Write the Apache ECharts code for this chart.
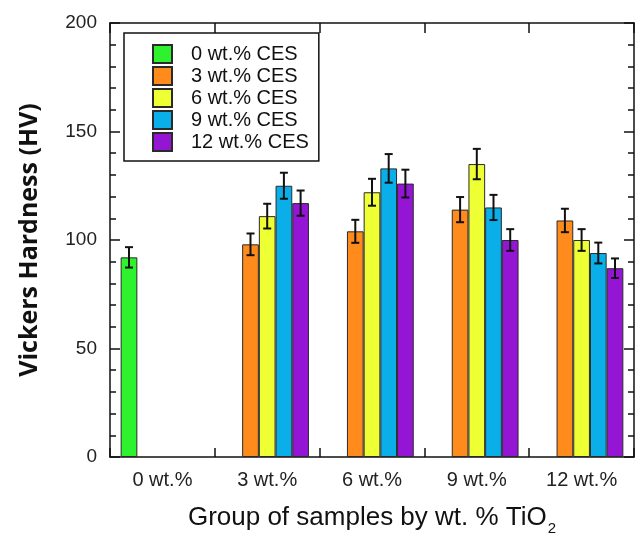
<!DOCTYPE html>
<html>
<head>
<meta charset="utf-8">
<title>Vickers Hardness</title>
<script src="https://cdn.jsdelivr.net/npm/echarts@6/dist/echarts.min.js"></script>
<style>
  html, body { margin: 0; padding: 0; background: #fff; }
  #main { width: 638px; height: 537px; }
</style>
</head>
<body>
<div id="main"></div>
<script>
// categories / tick labels
var categories = ['0 wt.%', '3 wt.%', '6 wt.%', '9 wt.%', '12 wt.%'];
var seriesNames = ['0 wt.% CES', '3 wt.% CES', '6 wt.% CES', '9 wt.% CES', '12 wt.% CES'];
var yTicks = [0, 50, 100, 150, 200];

// hardness values (HV), one array per CES content
var ces0  = [92, null, null, null, null];
var ces3  = [null, 98, 104, 114, 109];
var ces6  = [null, 111, 122, 135, 100];
var ces9  = [null, 125, 133, 115, 94];
var ces12 = [null, 117, 126, 100, 87];

// error bar half-widths
var err0  = [4.7, null, null, null, null];
var err3  = [null, 5, 5.3, 5.8, 5.4];
var err6  = [null, 5.7, 6.2, 7, 5];
var err9  = [null, 6, 6.6, 5.8, 4.8];
var err12 = [null, 5.8, 6.4, 5, 4.5];

var colors = ['#2ff22f', '#ff8b1c', '#eeff33', '#0aaee8', '#9416d4'];
var values = [ces0, ces3, ces6, ces9, ces12];
var errors = [err0, err3, err6, err9, err12];

var BAR_W = 16.7;
var FONT = 'Liberation Sans, Arial, sans-serif';

var chart = echarts.init(document.getElementById('main'), null, { renderer: 'canvas' });

// bar series
var series = [];
for (var i = 0; i < values.length; i++) {
  series.push({
    name: seriesNames[i],
    type: 'bar',
    data: values[i],
    barWidth: BAR_W,
    barGap: '0%',
    itemStyle: { color: colors[i], borderColor: '#2a2a2a', borderWidth: 1 },
    z: 2
  });
}

// error bars, drawn with a custom series per group
function errRender(offset) {
  return function (params, api) {
    var idx = api.value(0);
    var lo = api.coord([idx, api.value(1)]);
    var hi = api.coord([idx, api.value(2)]);
    var x = lo[0] + offset;
    var cap = 4;
    var st = { stroke: '#111', lineWidth: 2 };
    return {
      type: 'group',
      children: [
        { type: 'line', shape: { x1: x, y1: lo[1], x2: x, y2: hi[1] }, style: st },
        { type: 'line', shape: { x1: x - cap, y1: lo[1], x2: x + cap, y2: lo[1] }, style: st },
        { type: 'line', shape: { x1: x - cap, y1: hi[1], x2: x + cap, y2: hi[1] }, style: st }
      ]
    };
  };
}
for (var j = 0; j < values.length; j++) {
  var d = [];
  for (var k = 0; k < categories.length; k++) {
    if (values[j][k] != null) {
      d.push([k, values[j][k] - errors[j][k], values[j][k] + errors[j][k]]);
    }
  }
  series.push({
    type: 'custom',
    renderItem: errRender((j - 2) * BAR_W),
    data: d,
    encode: { x: 0, y: [1, 2] },
    z: 5,
    silent: true
  });
}

var option = {
  animation: false,
  backgroundColor: '#fff',
  textStyle: { fontFamily: FONT },
  grid: { left: 110, right: 4, top: 23, bottom: 80, outerBoundsMode: 'none', containLabel: false },
  legend: {
    data: seriesNames,
    orient: 'vertical',
    align: 'left',
    left: 124,
    top: 33,
    padding: [11, 10, 9, 28],
    itemWidth: 19,
    itemHeight: 18,
    itemGap: 2,
    icon: 'rect',
    borderColor: '#111',
    borderWidth: 1.5,
    backgroundColor: '#fff',
    textStyle: { fontSize: 20, color: '#111', fontFamily: FONT, padding: [0, 0, 0, 14], lineHeight: 18 }
  },
  xAxis: [{
    type: 'category',
    data: categories,
    position: 'bottom',
    name: '{a|Group of samples by wt. % TiO}{b|2}',
    nameLocation: 'middle',
    nameGap: 42,
    nameTextStyle: {
      rich: {
        a: { fontSize: 26, color: '#111', fontFamily: FONT },
        b: { fontSize: 15, color: '#111', fontFamily: FONT, padding: [22, 0, 0, 1] }
      }
    },
    axisLine: { onZero: false, lineStyle: { color: '#111', width: 1.5 } },
    axisTick: { show: true, inside: true, length: 9, lineStyle: { color: '#111', width: 1.5 } },
    axisLabel: { fontSize: 20, color: '#222', margin: 13, fontFamily: FONT }
  }, {
    type: 'category',
    data: categories,
    position: 'top',
    axisLine: { onZero: false, lineStyle: { color: '#111', width: 1.5 } },
    axisTick: { show: true, inside: true, length: 10, lineStyle: { color: '#111', width: 1.5 } },
    axisLabel: { show: false }
  }],
  yAxis: [{
    type: 'value',
    min: yTicks[0],
    max: yTicks[yTicks.length - 1],
    interval: 50,
    name: 'Vickers Hardness (HV)',
    nameLocation: 'middle',
    nameGap: 68,
    nameTextStyle: { fontSize: 25, fontWeight: 'bold', fontFamily: 'Open Sans', color: '#111' },
    axisLine: { show: true, lineStyle: { color: '#111', width: 1.5 } },
    axisTick: { show: true, inside: true, length: 10, lineStyle: { color: '#111', width: 1.5 } },
    minorTick: { show: true, splitNumber: 5, length: 6, lineStyle: { color: '#111', width: 1.5 } },
    axisLabel: { fontSize: 19, color: '#222', margin: 13, fontFamily: FONT },
    splitLine: { show: false }
  }, {
    type: 'value',
    position: 'right',
    min: yTicks[0],
    max: yTicks[yTicks.length - 1],
    interval: 50,
    axisLine: { show: true, lineStyle: { color: '#111', width: 1.5 } },
    axisTick: { show: true, inside: true, length: 10, lineStyle: { color: '#111', width: 1.5 } },
    minorTick: { show: true, splitNumber: 5, length: 6, lineStyle: { color: '#111', width: 1.5 } },
    axisLabel: { show: false },
    splitLine: { show: false }
  }],
  series: series
};

chart.setOption(option);
</script>
</body>
</html>
